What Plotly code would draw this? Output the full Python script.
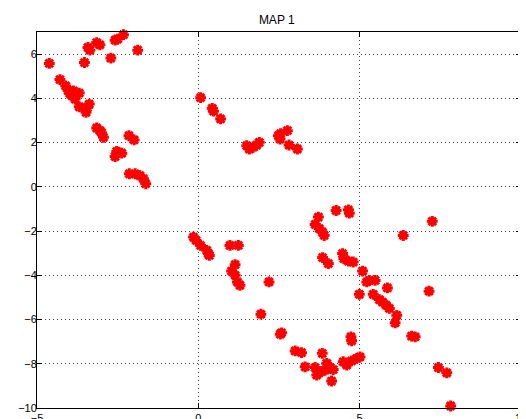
import plotly.graph_objects as go

title_text = "MAP 1"
x_vals = [-4.62, -4.29, -4.11, -4.03, -3.87, -3.92, -3.98, -3.82, -3.69, -3.69, -3.48, -3.38, -3.44,
          -3.53, -3.42, -3.36, -3.15, -3.05, -2.71, -2.58, -2.50, -2.32, -1.88,
          -3.15, -3.05, -3.00, -2.94, -2.15, -1.99, -2.58, -2.48, -2.37, -2.53,
          -2.14, -1.96, -1.81, -1.70, -1.63,
          0.07, 0.43, 0.47, 0.69, 1.50, 1.58, 1.70, 1.81, 1.89, 2.48, 2.53, 2.55, 2.76, 2.81, 3.07,
          -0.15, -0.07, 0.07, 0.26, 0.31, 0.34, 0.98, 1.24, 1.14, 1.03, 1.14, 1.21, 1.29, 2.19, 1.94,
          2.54, 2.58,
          4.27, 4.65, 4.68, 3.72, 3.62, 3.75, 3.85, 3.90, 6.35, 3.85, 4.03, 4.47, 4.51, 4.65, 4.80,
          5.09, 5.22, 5.30, 5.48, 5.86, 4.99, 5.42, 5.61, 5.71, 5.82, 5.92, 6.15, 6.10, 6.61, 6.72,
          7.25, 7.15, 7.44, 7.70, 7.82,
          3.00, 3.20, 3.31, 3.84, 3.62, 3.67, 3.82, 3.98, 4.06, 4.18, 3.93, 4.13, 4.49, 4.60, 4.75,
          4.91, 5.01, 4.73, 4.75]
y_vals = [5.58, 4.85, 4.56, 4.34, 4.34, 4.12, 4.22, 3.97, 4.24, 3.62, 3.37, 3.74, 3.59,
          5.62, 6.30, 6.18, 6.52, 6.42, 5.82, 6.63, 6.68, 6.88, 6.18,
          2.66, 2.54, 2.45, 2.24, 2.31, 2.12, 1.37, 1.56, 1.52, 1.60,
          0.59, 0.59, 0.51, 0.36, 0.14,
          4.03, 3.55, 3.42, 3.07, 1.86, 1.71, 1.79, 1.89, 2.01, 2.31, 2.16, 2.40, 2.54, 1.89, 1.71,
          -2.27, -2.42, -2.65, -2.87, -3.02, -3.10, -2.65, -2.65, -3.52, -3.81, -4.00, -4.30, -4.45,
          -4.30, -5.76,
          -6.66, -6.60,
          -1.07, -1.04, -1.19, -1.37, -1.70, -1.89, -2.05, -2.20, -2.20, -3.20, -3.47, -3.02, -3.25,
          -3.36, -3.40, -3.81, -4.30, -4.23, -4.23, -4.57, -4.86, -4.86, -5.10, -5.21, -5.35, -5.50,
          -5.81, -6.15, -6.75, -6.78,
          -1.56, -4.72, -8.17, -8.41, -9.91,
          -7.42, -7.50, -8.14, -7.53, -8.17, -8.51, -8.36, -7.98, -8.17, -8.26, -8.29, -8.78, -7.91,
          -8.06, -7.87, -7.76, -7.69, -6.78, -6.96]
x_ticks = [-5, 0, 5, 10]
y_ticks = [-10, -8, -6, -4, -2, 0, 2, 4, 6]

fig = go.Figure()
fig.add_trace(go.Scatter(
    x=x_vals, y=y_vals, mode="markers",
    marker=dict(symbol="asterisk", size=9, color="#ff0000",
                line=dict(color="#ff0000", width=3)),
    cliponaxis=False, showlegend=False))

axis_common = dict(
    showline=True, linecolor="black", linewidth=1, mirror="allticks",
    ticks="inside", ticklen=5, tickcolor="black", automargin=False,
    showgrid=True, gridcolor="#444444", gridwidth=1, griddash="1px,3px",
    zeroline=False, tickfont=dict(family="Liberation Sans", size=11, color="black"),
)
fig.update_xaxes(range=[-5, 10], tickvals=x_ticks,
                 ticktext=[str(v).replace("-", "\u2212") for v in x_ticks], **axis_common)
fig.update_yaxes(range=[-10, 7], tickvals=y_ticks,
                 ticktext=[str(v).replace("-", "\u2212") for v in y_ticks],
                 ticklabelstandoff=-3, **axis_common)

fig.update_layout(
    width=526, height=419,
    margin=dict(l=29, r=13, t=24, b=19, autoexpand=False),
    paper_bgcolor="white", plot_bgcolor="white",
    title=dict(text=title_text, x=0.511, xanchor="center", y=0.971, yanchor="middle",
               font=dict(family="Liberation Sans", size=12, color="black")),
)
fig.write_html("out.html")
